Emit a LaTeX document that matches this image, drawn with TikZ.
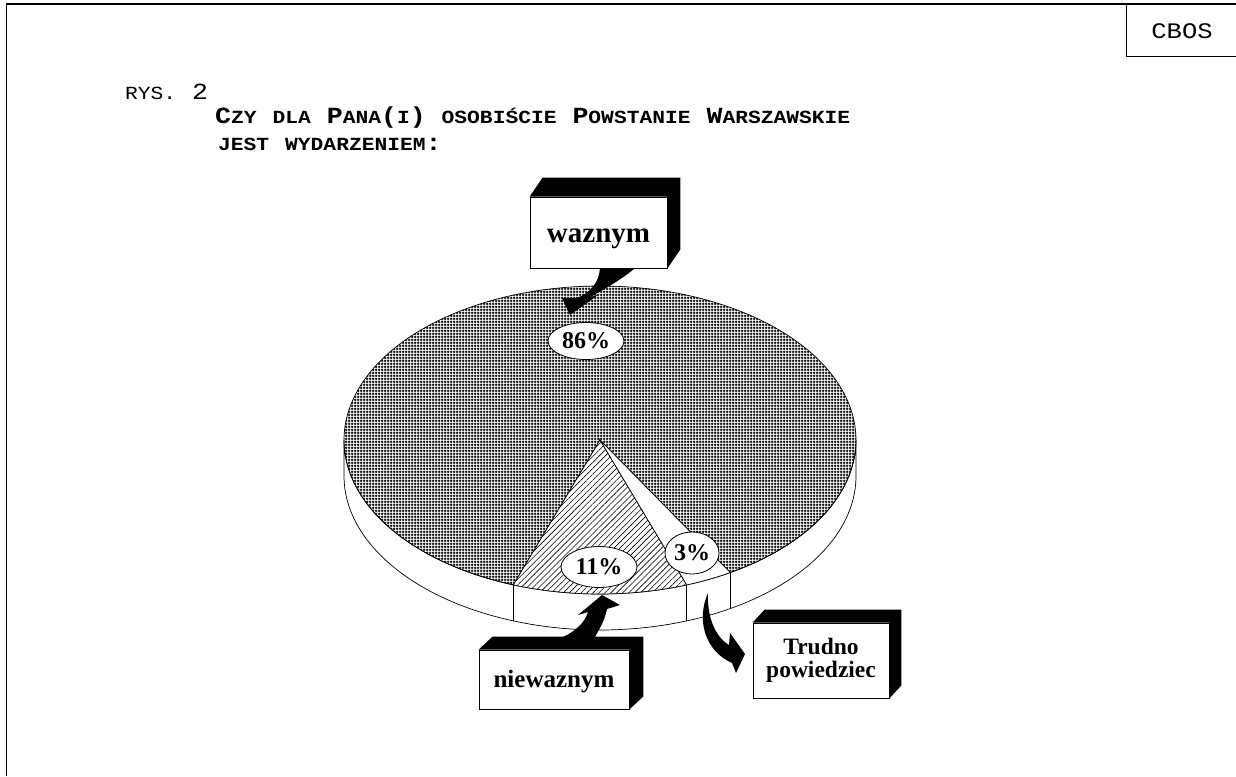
\documentclass[tikz,border=0pt]{standalone}
\usepackage{fontspec}
\setmainfont{Liberation Serif}
\newfontfamily\monof[FakeStretch=1.15]{Liberation Mono}
\usetikzlibrary{shapes.geometric,patterns,patterns.meta}
\newcommand\tbg{\fontsize{23.1}{26}\selectfont}
\newcommand\tsm{\fontsize{18.5}{22}\selectfont}
\tikzdeclarepattern{
  name=densegrid,
  type=uncolored,
  bounding box={(0pt,0pt) and (3pt,3pt)},
  tile size={(3pt,3pt)},
  code={
    \pgfsetlinewidth{1.2pt}
    \pgfpathmoveto{\pgfqpoint{0pt}{1.5pt}}\pgfpathlineto{\pgfqpoint{3pt}{1.5pt}}
    \pgfpathmoveto{\pgfqpoint{1.5pt}{0pt}}\pgfpathlineto{\pgfqpoint{1.5pt}{3pt}}
    \pgfusepath{stroke}
  }
}
\begin{document}
\begin{tikzpicture}[x=1pt,y=-1pt,
  pct/.style={ellipse, draw, fill=white, inner sep=0pt, line width=0.8pt,
    font=\bfseries\fontsize{24}{24}\selectfont},
  lbl/.style={draw, fill=white, inner sep=0pt, line width=0.8pt, align=center},
  rim/.style={line width=0.7pt}]
\useasboundingbox (0,0) rectangle (1236,776);
\fill[white] (0,0) rectangle (1236,776);
% frame
\draw[line width=1.2pt] (6.5,776) -- (6.5,4) -- (1236,4);
\draw[line width=1pt] (1126,4) -- (1126,57) -- (1236,57);
\node[font=\monof\fontsize{22.2}{24}\selectfont] (cbos) at (1182,31) {CBOS};
% titles
\node[anchor=base west, inner sep=0pt, font=\monof] (rys) at (125,99) {\tsm RYS.{\tbg\ 2}};
\node[anchor=base west, inner sep=0pt, font=\monof\bfseries] (t1) at (215,123)
  {{\tbg C}{\tsm ZY}{\tbg\ }{\tsm DLA}{\tbg\ P}{\tsm ANA}{\tbg(}{\tsm I}{\tbg)\ }{\tsm OSOBIŚCIE}{\tbg\ P}{\tsm OWSTANIE}{\tbg\ W}{\tsm ARSZAWSKIE}};
\node[anchor=base west, inner sep=0pt, font=\monof\bfseries] (t2) at (218,150)
  {{\tsm JEST}{\tbg\ }{\tsm WYDARZENIEM}{\tbg:}};
% pie side
\draw[rim, fill=white] plot[domain=0:180,samples=120] ({600+256*cos(\x)},{440+154*sin(\x)})
  -- plot[domain=180:0,samples=120] ({600+256*cos(\x)},{476+154*sin(\x)}) -- cycle;
\foreach \a in {59.4,70.2,109.8}
  \draw[rim] ({600+256*cos(\a)},{440+154*sin(\a)}) -- ++(0,36);
% pie top
\draw[rim, pattern=densegrid, pattern color=black] (600,440)
  -- plot[domain=109.8:419.4,samples=240] ({600+256*cos(\x)},{440+154*sin(\x)}) -- cycle;
\draw[rim, preaction={fill=white}, pattern={Lines[angle=45,distance=4.2pt,line width=0.6pt]}] (600,440)
  -- plot[domain=70.2:109.8,samples=40] ({600+256*cos(\x)},{440+154*sin(\x)}) -- cycle;
\draw[rim, fill=white] (600,440)
  -- plot[domain=59.4:70.2,samples=20] ({600+256*cos(\x)},{440+154*sin(\x)}) -- cycle;
% arrows
\fill (600,268) .. controls (599,283) and (590,293) .. (577,298) -- (562,298) -- (570,315)
  -- (598,295) -- (590,297) .. controls (607,288) and (625,277) .. (635,268) -- cycle;
\fill (563,637) .. controls (576,631) and (585,622) .. (588,612) -- (578,615) -- (602,595)
  -- (620,605) -- (607,609) .. controls (604,623) and (598,631) .. (595,637) -- cycle;
\fill (708,593) .. controls (707,615) and (714,636) .. (729,645) -- (730,633) -- (745,654)
  -- (736,673) -- (732,663) .. controls (705,651) and (696,620) .. (708,593) -- cycle;
% percentage labels
\node[pct, minimum width=76pt, minimum height=37pt] (p86) at (586,341) {86\%};
\node[pct, minimum width=76pt, minimum height=41pt] (p11) at (599,567) {11\%};
\node[pct, minimum width=54pt, minimum height=42pt] (p3) at (692,553) {3\%};
% boxes
\node[lbl, minimum width=137pt, minimum height=71pt, text height=21pt, text depth=2pt,
  font=\bfseries\fontsize{29}{29}\selectfont] (wz) at (598.5,232.5) {waznym};
\fill (wz.north west) -- ++(13,-19) -- ([shift={(13,-19)}]wz.north east)
  -- ([shift={(13,-19)}]wz.south east) -- (wz.south east) -- (wz.north east) -- cycle;
\node[lbl, minimum width=150pt, minimum height=59pt, text height=18pt, text depth=3pt,
  font=\bfseries\fontsize{25}{25}\selectfont] (nw) at (554,679.5) {niewaznym};
\fill (nw.north west) -- ++(14,-13) -- ([shift={(14,-13)}]nw.north east)
  -- ([shift={(14,-13)}]nw.south east) -- (nw.south east) -- (nw.north east) -- cycle;
\node[lbl, minimum width=136pt, minimum height=75pt,
  font=\bfseries\fontsize{23.5}{23}\selectfont] (tp) at (821,660.5) {Trudno\\powiedziec};
\fill (tp.north west) -- ++(12,-13) -- ([shift={(12,-13)}]tp.north east)
  -- ([shift={(12,-13)}]tp.south east) -- (tp.south east) -- (tp.north east) -- cycle;
\end{tikzpicture}
\end{document}
